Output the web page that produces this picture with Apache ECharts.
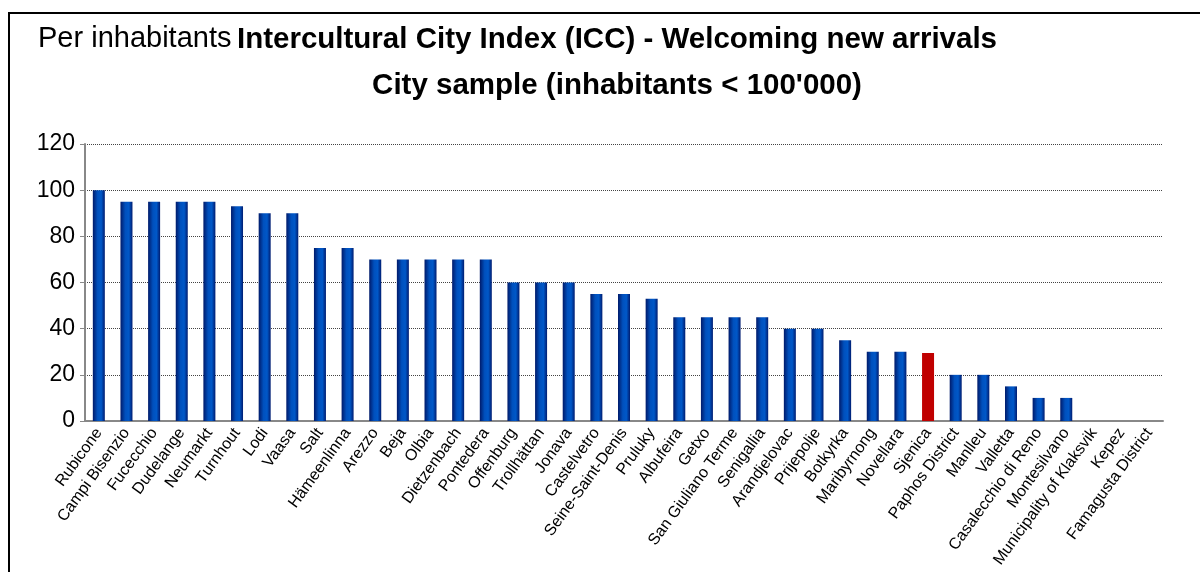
<!DOCTYPE html>
<html>
<head>
<meta charset="utf-8">
<script src="https://cdn.jsdelivr.net/npm/echarts@6/dist/echarts.min.js"></script>
<style>
  html, body { margin: 0; padding: 0; background: #fff; }
  #chart { width: 1200px; height: 572px; }
</style>
</head>
<body>
<div id="chart"></div>
<script>
const cities = ['Rubicone', 'Campi Bisenzio', 'Fucecchio', 'Dudelange', 'Neumarkt', 'Turnhout', 'Lodi', 'Vaasa',
  'Salt', 'Hämeenlinna', 'Arezzo', 'Beja', 'Olbia', 'Dietzenbach', 'Pontedera', 'Offenburg', 'Trollhättan',
  'Jonava', 'Castelvetro', 'Seine-Saint-Denis', 'Pruluky', 'Albufeira', 'Getxo', 'San Giuliano Terme',
  'Senigallia', 'Arandjelovac', 'Prijepolje', 'Botkyrka', 'Maribyrnong', 'Novellara', 'Sjenica',
  'Paphos District', 'Manlleu', 'Valletta', 'Casalecchio di Reno', 'Montesilvano',
  'Municipality of Klaksvik', 'Kepez', 'Famagusta District']
const scores = [100, 95, 95, 95, 95, 93, 90, 90, 75, 75, 70, 70, 70, 70, 70, 60, 60, 60, 55, 55, 53,
  45, 45, 45, 45, 40, 40, 35, 30, 30, 29.5, 20, 20, 15, 10, 10, 0, 0, 0]
const highlightCity = 'Sjenica'
const yTicks = [0, 20, 40, 60, 80, 100, 120]

// 柱子的横向渐变
const blueBar = new echarts.graphic.LinearGradient(0, 0, 1, 0, [
  { offset: 0, color: '#001a6a' },
  { offset: 0.4, color: '#0050bd' },
  { offset: 0.7, color: '#0058c8' },
  { offset: 1, color: '#001c70' }
])

const chart = echarts.init(document.getElementById('chart'))
chart.setOption({
  animation: false,
  title: [
    {
      text: 'Per inhabitants',
      left: 33,
      top: 19,
      textStyle: { fontFamily: 'Liberation Sans', fontWeight: 'normal', fontSize: 29, color: '#000' }
    },
    {
      text: "Intercultural City Index (ICC) - Welcoming new arrivals\nCity sample (inhabitants < 100'000)",
      left: 612,
      top: 12,
      textAlign: 'center',
      textStyle: { fontFamily: 'Liberation Sans', fontWeight: 'bold', fontSize: 29.5, lineHeight: 46, color: '#000' }
    }
  ],
  graphic: [
    {
      type: 'rect',
      shape: { x: 9, y: 13, width: 1200, height: 600 },
      style: { fill: 'none', stroke: '#000', lineWidth: 2 }
    }
  ],
  grid: { left: 85, right: 37, top: 144, bottom: 151 },
  xAxis: {
    type: 'category',
    data: cities,
    axisLine: { lineStyle: { color: '#888', width: 2 } },
    axisTick: { lineStyle: { color: '#888', width: 1.5 }, length: 5 },
    axisLabel: {
      interval: 0,
      rotate: 54,
      fontFamily: 'Liberation Sans',
      fontSize: 16,
      color: '#000',
      margin: 9
    }
  },
  yAxis: {
    type: 'value',
    min: yTicks[0],
    max: yTicks[yTicks.length - 1],
    interval: 20,
    axisLine: { show: true, lineStyle: { color: '#888', width: 2 } },
    axisTick: { show: true, length: 5, lineStyle: { color: '#888' } },
    axisLabel: { fontFamily: 'Liberation Sans', fontSize: 23, color: '#000', margin: 10 },
    splitLine: { lineStyle: { color: '#444', type: 'dotted', width: 1 } }
  },
  series: [
    {
      type: 'bar',
      barWidth: 12,
      data: scores.map((v, i) => ({
        value: v,
        itemStyle: { color: cities[i] === highlightCity ? '#c00000' : blueBar }
      }))
    }
  ]
})
</script>
</body>
</html>
